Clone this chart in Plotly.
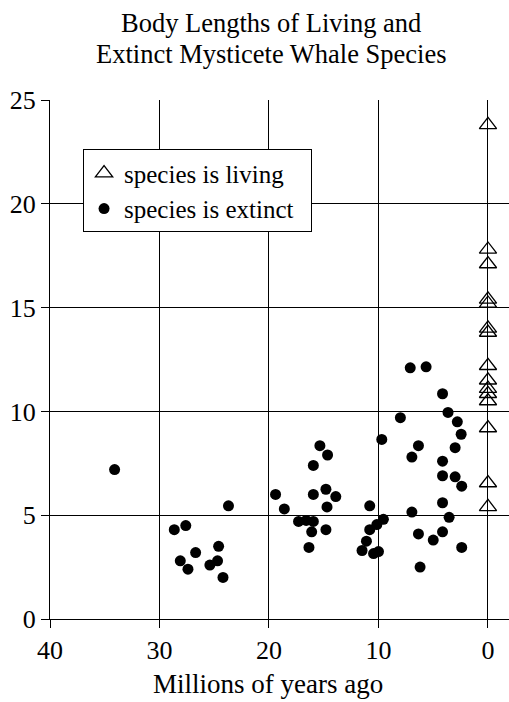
import plotly.graph_objects as go

living_x = [0]*15
living_y = [23.8, 17.8, 17.1, 15.4, 15.2, 14.0, 13.8, 12.2, 11.5, 11.1, 10.85, 10.5, 9.2, 6.55, 5.4]

extinct_x = [34.1, 23.7, 28.65, 27.6, 24.6, 26.7, 28.1, 27.4, 25.4, 24.7, 24.2,
             19.4, 18.6, 17.3, 16.6, 15.95, 16.1, 14.8, 16.35, 15.95, 14.8, 13.9, 14.7,
             15.95, 15.35, 14.65, 10.8, 9.7, 9.55, 10.15, 10.8, 11.1, 11.5, 10.45, 10.0,
             8.0, 7.1, 5.65, 6.35, 6.95, 6.95, 6.35, 6.2, 4.15, 3.65, 2.8, 2.45, 3.0,
             4.15, 4.15, 3.0, 2.4, 4.15, 3.55, 4.15, 5.0, 2.4]
extinct_y = [7.2, 5.45, 4.3, 4.5, 3.5, 3.2, 2.8, 2.4, 2.6, 2.8, 2.0,
             6.0, 5.3, 4.7, 4.75, 4.7, 4.2, 4.3, 3.45, 6.0, 6.25, 5.9, 5.4,
             7.4, 8.35, 7.9, 5.45, 8.65, 4.8, 4.55, 4.3, 3.75, 3.3, 3.15, 3.25,
             9.7, 12.1, 12.15, 8.35, 7.8, 5.15, 4.1, 2.5, 10.85, 9.95, 9.5, 8.9, 8.25,
             7.6, 6.9, 6.85, 6.4, 5.6, 4.9, 4.2, 3.8, 3.45]

x_ticks = [40, 30, 20, 10, 0]
y_ticks = [0, 5, 10, 15, 20, 25]

title_lines = ["Body Lengths of Living and", "Extinct Mysticete Whale Species"]
x_title = "Millions of years ago"
legend_names = ["species is living", "species is extinct"]

FONT = "Liberation Serif"
PLOT_BOTTOM = 619.5
PLOT_H = 520.0


def py(pix):
    return (PLOT_BOTTOM - pix) / PLOT_H


def px(pix):
    return (pix - 50) / 459


fig = go.Figure()
fig.add_trace(go.Scatter(
    x=living_x, y=living_y, mode="markers", name=legend_names[0] + "&nbsp;&nbsp;",
    marker=dict(symbol="triangle-up-open", size=15, color="black", line=dict(width=1.3, color="black")),
))
fig.add_trace(go.Scatter(
    x=extinct_x, y=extinct_y, mode="markers", name=legend_names[1] + "&nbsp;&nbsp;",
    marker=dict(symbol="circle", size=11, color="black", line=dict(width=0)),
))

axis_common = dict(
    showgrid=True, gridcolor="black", gridwidth=1.3,
    showline=True, linecolor="black", linewidth=1.3,
    ticks="outside", ticklen=8, tickcolor="black", tickwidth=1.3,
    zeroline=False,
    tickfont=dict(family=FONT, size=26, color="black"),
)

fig.update_layout(
    width=509, height=702,
    margin=dict(l=50, r=0, t=99.5, b=82.5),
    plot_bgcolor="white", paper_bgcolor="white",
    showlegend=True,
    legend=dict(
        x=0.072, y=0.905, xanchor="left", yanchor="top",
        bgcolor="white", bordercolor="black", borderwidth=1,
        font=dict(family=FONT, size=25, color="black"),
    ),
    xaxis=dict(range=[40, -1.92], tickvals=x_ticks, **axis_common),
    yaxis=dict(range=[0, 25], tickvals=y_ticks, **axis_common),
)

for line, ypix in zip(title_lines, [22, 53]):
    fig.add_annotation(
        text=line, xref="paper", yref="paper",
        x=px(271), y=py(ypix), xanchor="center", yanchor="middle",
        showarrow=False,
        font=dict(family=FONT, size=26.5, color="black"),
    )
fig.add_annotation(
    text=x_title, xref="paper", yref="paper",
    x=px(268), y=py(685), xanchor="center", yanchor="middle",
    showarrow=False,
    font=dict(family=FONT, size=27, color="black"),
)

fig.write_html("out.html")
